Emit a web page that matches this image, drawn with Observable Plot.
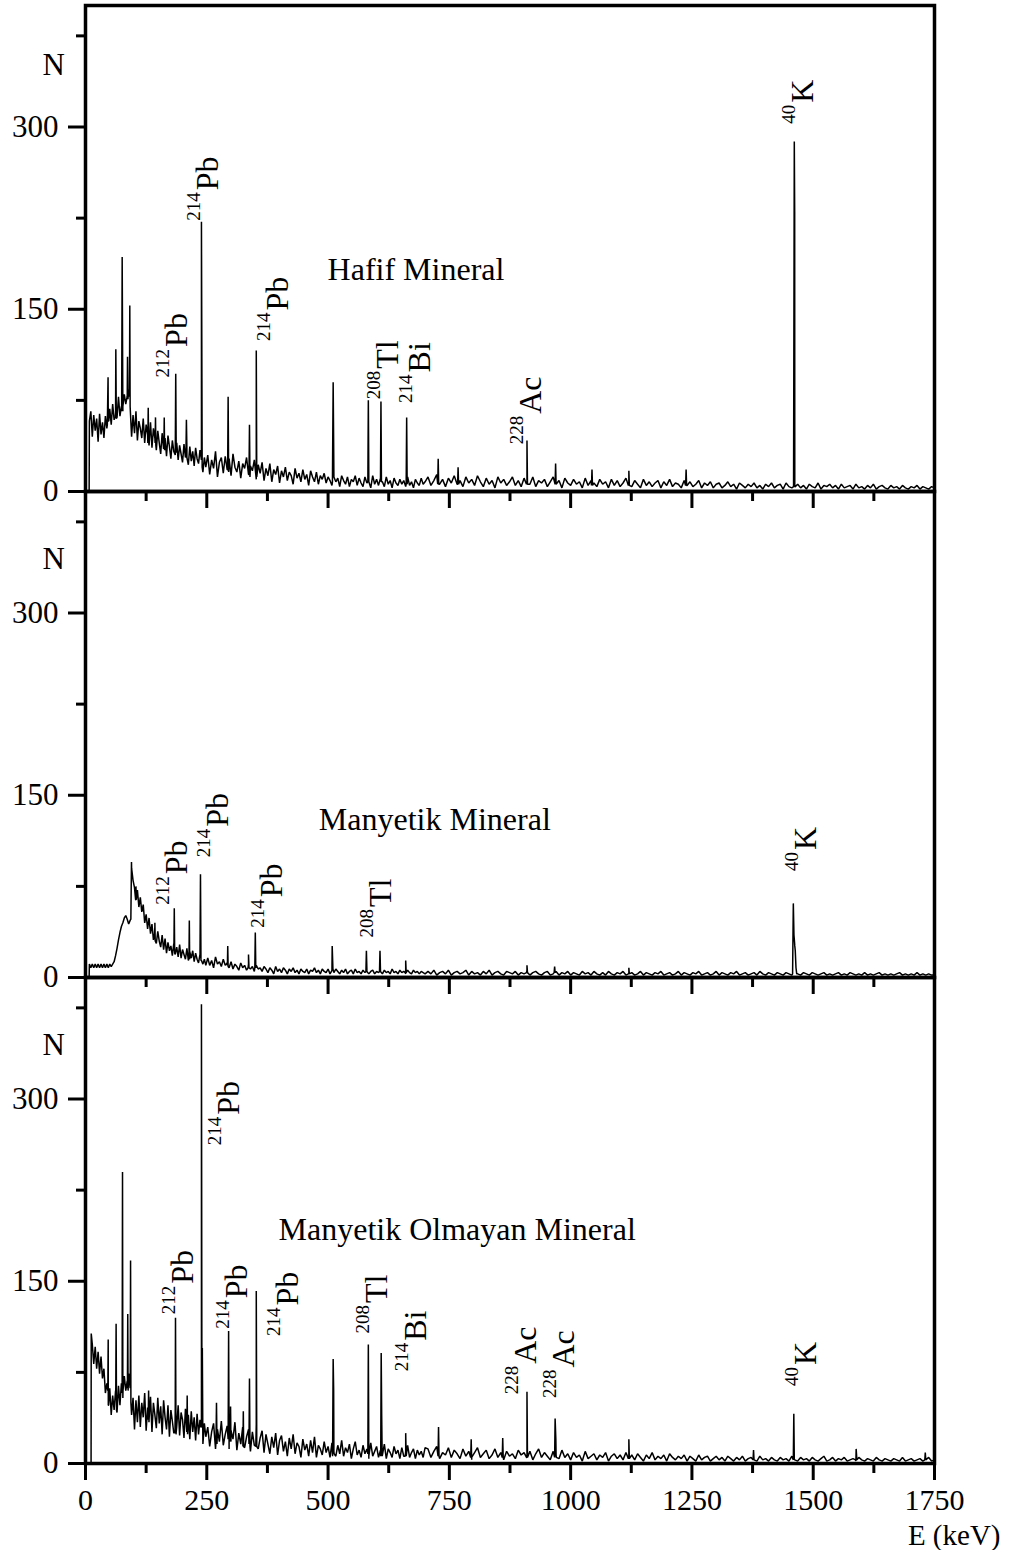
<!DOCTYPE html>
<html><head><meta charset="utf-8">
<script src="https://cdn.jsdelivr.net/npm/d3@7"></script>
<script src="https://cdn.jsdelivr.net/npm/@observablehq/plot@0.6"></script>
<style>body{margin:0;background:#fff;} #chart svg{display:block;}</style>
</head><body><div id="chart"></div>
<script>
// ---------- categories / text ----------
const panels = ["Hafif", "Manyetik", "Olmayan"];
const panelTitles = ["Hafif Mineral", "Manyetik Mineral", "Manyetik Olmayan Mineral"];
const titleE = [499, 481, 398];
const titleN = [174, 121, 184];
const nLabelN = [351, 344, 344];
const xTicksMajor = [0, 250, 500, 750, 1000, 1250, 1500, 1750];
const xTicksMinor = [125, 375, 625, 875, 1125, 1375, 1625];
const yTicksMajor = [0, 150, 300];
const yTicksMinor = [75, 225, 375];

// ---------- energy grid of the continuum (keV) ----------
const energyLow = [8,11,14,17,20,23,26,29,32,35,
  38,41,44,47,50,53,56,59,62,65,
  68,71,74,77,80,83,86,89,92,95,
  98,101,104,107,110,113,116,119,122,125,
  128,131,134,137,140,143,146,149,152,155,
  158,161,164,167,170,173,176,179,182,185,
  188,191,194,197,200,203,206,209,212,215,
  218,221,224,227,230,233,236,239,242,245,
  248];
const energyMid = [252,256,260,264,268,272,276,280,284,288,
  292,296,300,304,308,312,316,320,324,328,
  332,336,340,344,348,352,356,360,364,368,
  372,376,380,384,388,392,396,400,404,408,
  412,416,420,424,428,432,436,440,444,448,
  452,456,460,464,468,472,476,480,484,488,
  492,496,500,504,508,512,516,520,524,528,
  532,536,540,544,548,552,556,560,564,568,
  572,576,580,584,588,592,596,600,604,608,
  612,616,620,624,628,632,636,640,644,648,
  652,656,660,664,668,672,676,680,684,688,
  692,696,700];
const energyHigh = [706,712,718,724,730,736,742,748,754,760,
  766,772,778,784,790,796,802,808,814,820,
  826,832,838,844,850,856,862,868,874,880,
  886,892,898,904,910,916,922,928,934,940,
  946,952,958,964,970,976,982,988,994,1000,
  1006,1012,1018,1024,1030,1036,1042,1048,1054,1060,
  1066,1072,1078,1084,1090,1096,1102,1108,1114,1120,
  1126,1132,1138,1144,1150,1156,1162,1168,1174,1180,
  1186,1192,1198,1204,1210,1216,1222,1228,1234,1240,
  1246,1252,1258,1264,1270,1276,1282,1288,1294,1300,
  1306,1312,1318,1324,1330,1336,1342,1348,1354,1360,
  1366,1372,1378,1384,1390,1396,1402,1408,1414,1420,
  1426,1432,1438,1444,1450,1456,1462,1468,1474,1480,
  1486,1492,1498,1504,1510,1516,1522,1528,1534,1540,
  1546,1552,1558,1564,1570,1576,1582,1588,1594,1600,
  1606,1612,1618,1624,1630,1636,1642,1648,1654,1660,
  1666,1672,1678,1684,1690,1696,1702,1708,1714,1720,
  1726,1732,1738,1744,1750];

// ---------- Hafif Mineral ----------
const hafifLow = [58,66,45,63,50,60,41,64,47,57,
  44,62,52,58,68,55,72,59,65,61,
  78,62,70,66,80,72,76,84,70,45,
  63,48,66,42,58,52,44,60,40,55,
  47,38,57,36,52,44,34,50,40,31,
  48,35,44,29,46,37,27,42,33,30,
  40,26,38,31,24,39,28,35,22,37,
  25,33,21,36,27,23,34,26,16,28,
  20];
const hafifMid = [30,14,26,19,33,12,24,28,15,29,
  18,27,13,31,20,16,25,11,23,19,
  28,14,21,17,26,10,22,15,24,9,
  19,13,23,8,18,14,21,7,17,12,
  20,9,16,13,6,19,11,15,8,18,
  10,14,5,17,12,8,16,6,13,10,
  15,7,12,9,5,14,8,11,4,13,
  9,6,12,4,10,8,13,5,11,7,
  4,12,7,9,3,13,6,10,5,11,
  8,4,12,6,9,3,11,7,5,10,
  6,9,4,12,5,8,3,10,7,5,
  11,6,8];
const hafifHigh = [12,5,9,14,6,10,4,11,7,13,
  6,9,4,12,7,10,5,13,8,4,
  11,6,9,3,12,7,10,5,8,12,
  5,9,4,11,8,6,12,4,9,7,
  10,4,8,12,6,9,3,11,7,5,
  10,6,8,3,11,5,9,7,4,10,
  6,8,3,10,5,9,4,7,11,6,
  4,9,6,3,10,5,8,4,7,9,
  3,8,5,10,4,7,6,3,9,5,
  8,4,6,9,3,7,5,8,3,6,
  7,3,5,8,4,6,2,7,5,3,
  6,4,7,3,5,2,6,4,7,3,
  5,6,2,7,4,3,4,6,3,5,
  2,6,4,3,7,2,5,4,6,3,
  5,2,6,3,4,5,2,6,3,4,
  2,5,3,6,2,4,5,3,2,5,
  3,4,2,5,3,2,4,3,5,2,
  4,3,2,4,3];
const hafifPeaks = [[7.5,0],
  [45,55],[46.5,94],[48,58],
  [61.5,62],[62.5,117],[63.5,60],
  [74.5,66],[75.6,193],[77,70],
  [85.8,78],[86.6,111],[87.5,76],
  [90.6,78],[91.3,153],[91.9,80],
  [128.5,40],[129.3,69],[130,42],
  [143.5,40],[144.3,61],[145,38],
  [161.5,36],[162.3,61],[163,34],
  [185,30],[186,97],[187,32],
  [207,30],[208,59],[209,28],
  [237.5,30],[239,222],[240.5,20],
  [293,18],[294,78],[295,16],
  [337,14],[338,55],[339,12],
  [351,14],[352,116],[353,12],
  [509,8],[510.5,90],[512,12],
  [582,8],[583,75],[584,8],
  [608,8],[609,74],[610,8],
  [661,6],[662,61],[663,6],
  [726,6],[727,27],[728,6],
  [767,6],[768,20],[769,6],
  [909,6],[910,42],[911,6],
  [968,6],[969,23],[970,6],
  [1043,5],[1044,18],[1045,5],
  [1119,5],[1120,17],[1121,5],
  [1237,5],[1238,18],[1239,5],
  [1459.5,4],[1461,288],[1461.8,230],[1463,4]];

// ---------- Manyetik Mineral ----------
const manyetikLow = [11,8,11,8,11,8,11,8,11,8,
  11,8,11,8,11,9,11,13,18,24,
  31,37,42,45,49,51,48,44,47,90,
  80,74,64,72,58,66,54,60,45,52,
  40,49,36,44,31,42,28,38,30,25,
  35,23,32,20,29,22,26,18,28,19,
  25,17,27,16,23,19,15,24,14,21,
  16,22,13,20,15,12,19,14,11,15,
  10];
const manyetikMid = [16,10,14,8,17,11,13,9,15,10,
  12,8,13,7,11,9,6,12,8,10,
  6,11,7,9,5,10,7,8,5,9,
  7,4,8,6,3,9,5,7,4,8,
  6,3,7,5,8,4,6,3,7,5,
  4,7,3,6,5,8,4,6,3,7,
  5,4,7,3,6,4,7,5,3,6,
  4,7,3,5,6,3,7,4,5,3,
  6,4,7,3,5,6,3,5,4,6,
  3,6,4,5,3,7,4,5,3,6,
  4,5,3,6,4,3,6,4,5,3,
  5,4,3];
const manyetikHigh = [5,3,6,2,4,5,3,6,2,4,
  5,3,4,6,2,5,3,4,2,5,
  3,6,2,4,5,3,2,5,4,3,
  5,2,4,3,6,2,4,5,3,2,
  4,5,2,3,5,2,4,3,5,2,
  4,3,2,5,3,4,2,5,3,2,
  4,2,5,3,2,4,3,5,2,3,
  4,2,3,5,2,4,3,2,4,3,
  5,2,3,4,2,3,5,2,4,3,
  2,4,3,5,2,3,4,2,3,5,
  2,4,3,2,4,3,5,2,3,4,
  2,3,4,2,5,3,2,4,3,2,
  4,3,2,4,3,2,26,3,2,4,
  3,2,4,3,2,3,4,2,3,2,
  3,4,2,3,2,4,3,2,3,2,
  4,2,3,2,3,4,2,3,2,3,
  2,3,4,2,3,2,3,2,4,2,
  3,2,3,2,2];
const manyetikPeaks = [[7.5,0],
  [93.5,48],[94.8,95],
  [103.3,64],[104,75],[104.7,64],
  [142.3,36],[143,45],[143.7,30],
  [182.2,22],[183,57],[183.8,20],
  [213.3,16],[214,47],[214.7,15],
  [236,18],[237,85],[238,14],
  [292.5,10],[293.2,26],[294,9],
  [335,8],[336,19],[337,8],
  [349,8],[350,37],[351,8],
  [507,5],[508.5,26],[510,7],
  [578,5],[579,22],[580,5],
  [606,5],[607,22],[608,5],
  [659,4],[660,14],[661,4],
  [909,4],[910,10],[911,4],
  [966,4],[967,9],[968,4],
  [1119,3],[1120,8],[1121,3],
  [1457.5,3],[1459,61],[1460.3,35],[1461.5,29],[1463,22],[1464.5,8],[1466,3]];

// ---------- Manyetik Olmayan Mineral ----------
const olmayanLow = [0,0,98,82,96,78,92,74,88,70,
  78,58,66,48,62,40,56,44,60,42,
  64,48,66,54,72,60,68,74,62,40,
  54,28,52,34,56,30,50,38,58,27,
  46,36,55,26,50,40,29,54,33,47,
  24,52,38,28,48,22,44,35,25,46,
  30,48,23,42,36,21,45,28,40,20,
  43,26,38,19,41,24,36,30,16,33,
  22];
const olmayanMid = [30,14,26,33,12,28,18,35,15,24,
  31,12,27,20,34,11,25,16,30,13,
  22,28,10,26,15,32,12,21,27,9,
  24,16,8,22,13,25,7,19,23,10,
  18,6,21,12,24,8,17,14,5,20,
  11,16,6,19,9,22,5,15,12,7,
  18,9,14,5,17,10,6,15,8,19,
  6,13,9,16,4,12,18,7,11,5,
  15,8,12,4,17,6,10,14,5,11,
  7,16,4,12,9,5,14,8,11,4,
  13,6,10,15,5,9,12,4,11,7,
  10,5,13];
const olmayanHigh = [12,5,10,14,4,9,7,13,5,11,
  8,4,12,6,10,3,9,13,5,8,
  11,4,7,12,5,9,3,10,6,8,
  4,11,7,9,5,10,3,8,12,5,
  9,6,3,10,7,4,11,5,8,3,
  9,5,7,2,10,4,6,8,3,7,
  5,9,2,6,8,4,7,3,9,5,
  7,3,8,5,2,7,4,9,3,6,
  4,7,2,8,5,3,6,4,7,2,
  6,4,2,7,3,5,6,2,4,6,
  3,5,2,6,4,2,5,3,6,2,
  4,5,3,2,6,3,4,2,5,3,
  2,5,3,4,2,6,3,2,5,3,
  4,2,5,3,2,4,6,2,3,5,
  2,4,3,5,2,3,4,2,5,3,
  2,4,3,2,5,3,2,4,3,2,
  4,3,2,5,2,3,4,2,3,4,
  2,3,5,2,3];
const olmayanPeaks = [[11.5,0],[11.8,107],
  [46,60],[46.8,102],[47.6,48],
  [62.3,52],[63.1,115],[63.9,44],
  [75.5,58],[76.3,240],[77.3,60],
  [86.4,62],[87.1,123],[87.8,60],
  [92.3,68],[92.9,167],[93.6,50],
  [129.3,36],[130.1,60],[130.8,34],
  [184.5,26],[185.5,120],[186.5,24],
  [208.8,26],[209.6,56],[210.4,24],
  [237.8,30],[239,378],[240,40],[240.8,95],[241.8,24],
  [269,18],[270,50],[271,16],
  [294,20],[295,109],[296,18],
  [298.3,20],[299,47],[299.8,18],
  [324.5,14],[325.3,43],[326,14],
  [337,16],[338,70],[339,14],
  [351,14],[352,142],[353,14],
  [509.3,6],[510.5,86],[511.5,60],[512.5,8],
  [582,8],[583,98],[584,6],
  [608.5,6],[609.5,91],[610.5,40],[611.5,6],
  [659,6],[660,25],[661,6],
  [726.7,6],[727.7,30],[728.7,6],
  [794,5],[795,20],[796,5],
  [859,5],[860,21],[861,5],
  [909,5],[910,59],[911,5],
  [967,5],[968,37],[969.5,20],[970.5,5],
  [1119,4],[1120,20],[1121,4],
  [1376,3],[1377,11],[1378,3],
  [1459,3],[1460,41],[1461,3],
  [1587,3],[1588.5,12],[1590,3],
  [1730,3],[1731,9],[1732,3]];

// ---------- peak labels ----------
const labelPanel = ["Hafif","Hafif","Hafif","Hafif","Hafif","Hafif","Hafif",
  "Manyetik","Manyetik","Manyetik","Manyetik","Manyetik",
  "Olmayan","Olmayan","Olmayan","Olmayan","Olmayan","Olmayan","Olmayan","Olmayan","Olmayan"];
const labelMass = ["212","214","214","208","214","228","40",
  "212","214","214","208","40",
  "214","212","214","214","208","214","228","228","40"];
const labelElement = ["Pb","Pb","Pb","Tl","Bi","Ac","K",
  "Pb","Pb","Pb","Tl","K",
  "Pb","Pb","Pb","Pb","Tl","Bi","Ac","Ac","K"];
const labelE = [210,274,418,645,711,938,1499,
  210,293,406,629,1505,
  317,221,332,437,622,701,928,1006,1505];
const labelN = [119,248,149,101,98,64,320,
  85,124,66,58,105,
  287,148,136,130,132,101,82,79,81];

// ---------- build tables ----------
function check(name, a, b) {
  if (a.length !== b.length) throw new Error(name + " length " + a.length + " vs grid " + b.length);
}
function build(panel, low, mid, high, peaks) {
  check(panel + " low", low, energyLow);
  check(panel + " mid", mid, energyMid);
  check(panel + " high", high, energyHigh);
  const pts = [];
  energyLow.forEach((e, i) => pts.push({panel, E: e, N: low[i]}));
  energyMid.forEach((e, i) => pts.push({panel, E: e, N: mid[i]}));
  energyHigh.forEach((e, i) => pts.push({panel, E: e, N: high[i]}));
  peaks.forEach(([e, n]) => pts.push({panel, E: e, N: n}));
  pts.sort((a, b) => a.E - b.E);
  return pts;
}
const spectrum = [
  ...build("Hafif", hafifLow, hafifMid, hafifHigh, hafifPeaks),
  ...build("Manyetik", manyetikLow, manyetikMid, manyetikHigh, manyetikPeaks),
  ...build("Olmayan", olmayanLow, olmayanMid, olmayanHigh, olmayanPeaks)
];
const labels = labelPanel.map((p, i) => ({panel: p, mass: labelMass[i], el: labelElement[i], E: labelE[i], N: labelN[i]}));
const titles = panels.map((p, i) => ({panel: p, text: panelTitles[i], E: titleE[i], N: titleN[i]}));
const nLabels = panels.map((p, i) => ({panel: p, N: nLabelN[i]}));

const chart = Plot.plot({
  width: 1010, height: 1550,
  marginTop: 5, marginLeft: 85, marginRight: 76, marginBottom: 87,
  style: {fontFamily: "'Liberation Serif', 'Times New Roman', serif", color: "black", background: "white"},
  x: {domain: [0, 1750]},
  y: {domain: [0, 400]},
  fy: {domain: panels, padding: 0, axis: null},
  marks: [
    Plot.line(spectrum, {x: "E", y: "N", fy: "panel", stroke: "black", strokeWidth: 1.5, strokeLinejoin: "miter"}),
    Plot.frame({stroke: "black", strokeWidth: 3.5}),
    Plot.axisY({ticks: yTicksMajor, tickSize: 17, tickPadding: 10, fontSize: 31, strokeWidth: 3, label: null, tickFormat: d => String(d)}),
    Plot.axisY({ticks: yTicksMinor, tickSize: 9, tickFormat: () => "", strokeWidth: 3, label: null}),
    Plot.axisX({ticks: xTicksMajor, tickSize: 17, tickFormat: () => "", strokeWidth: 3, label: null, facetAnchor: null}),
    Plot.axisX({ticks: xTicksMinor, tickSize: 10, tickFormat: () => "", strokeWidth: 3, label: null, facetAnchor: null}),
    Plot.axisX({ticks: xTicksMajor, tickSize: 0, tickPadding: 25, fontSize: 30, label: null, tickFormat: d => String(d)}),
    Plot.text(nLabels, {y: "N", fy: "panel", text: () => "N", frameAnchor: "left", dx: -43, fontSize: 31, fill: "black"}),
    Plot.text(titles, {x: "E", y: "N", fy: "panel", text: "text", textAnchor: "start", lineAnchor: "bottom", fontSize: 32, fill: "black"}),
    Plot.text(labels, {x: "E", y: "N", fy: "panel", text: "el", rotate: -90, textAnchor: "start", lineAnchor: "bottom", fontSize: 32, fill: "black"}),
    Plot.text(labels, {x: "E", y: "N", fy: "panel", text: "mass", rotate: -90, textAnchor: "end", lineAnchor: "bottom", fontSize: 19, dx: -18, dy: 2, fill: "black"}),
    Plot.text([{panel: "Olmayan", t: "E (keV)"}], {fy: "panel", text: "t", frameAnchor: "bottom-right", textAnchor: "end", lineAnchor: "bottom", dx: 66, dy: 81, fontSize: 29, fill: "black"})
  ]
});
document.getElementById("chart").appendChild(chart);
</script>
</body></html>
